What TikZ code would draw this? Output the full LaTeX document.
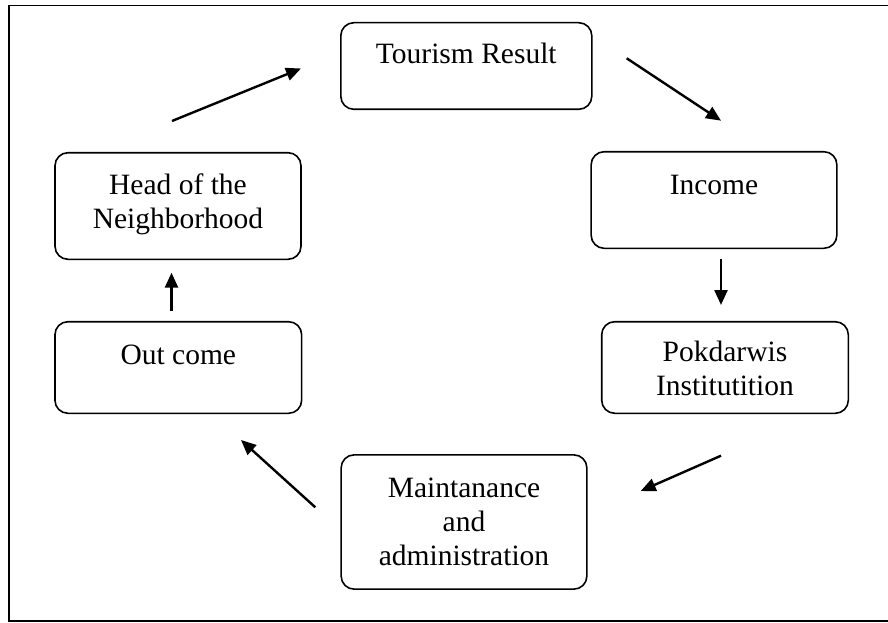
\documentclass[tikz,border=0pt]{standalone}
\usepackage{fontspec}
\setmainfont{Liberation Serif}
\usetikzlibrary{arrows.meta,calc}
\tikzset{
  stagebox/.style={draw, line width=1.6pt, rounded corners=13pt, inner sep=0pt},
  stagetext/.style={anchor=base, align=center, inner sep=0pt, font=\fontsize{29.5}{34}\selectfont},
  flow/.style={line width=2.4pt, -{Triangle[length=15pt,width=13pt]}},
}
\begin{document}
\begin{tikzpicture}[x=1pt,y=-1pt]
\useasboundingbox (0,0) rectangle (888,623);
\clip (0,0) rectangle (888,623);
\draw[line width=1.8pt] (9,5.5) rectangle (900,621);
% boxes
\node[stagebox, minimum width=251pt, minimum height=86.6pt] (tr) at (466.3,66) {};
\node[stagebox, minimum width=245.7pt, minimum height=96.6pt] (inc) at (714,200) {};
\node[stagebox, minimum width=246.6pt, minimum height=91.6pt] (pok) at (725,367.5) {};
\node[stagebox, minimum width=245.7pt, minimum height=134.3pt] (man) at (464,522) {};
\node[stagebox, minimum width=246.7pt, minimum height=91.6pt] (out) at (178.3,367.5) {};
\node[stagebox, minimum width=246pt, minimum height=106.6pt] (head) at (178,206) {};
% texts (base anchor = baseline of the last line)
\node[stagetext] (trt) at ($(tr.north)+(0,41.6)$) {Tourism Result};
\node[stagetext] (inct) at ($(inc.north)+(0,43.3)$) {Income};
\node[stagetext] (pokt) at ($(pok.north)+(0,75)$) {Pokdarwis\\Institutition};
\node[stagetext] (mant) at ($(man.north)+(0,111.7)$) {Maintanance\\and\\administration};
\node[stagetext] (outt) at ($(out.north)+(0,43.3)$) {Out come};
\node[stagetext] (headt) at ($(head.north)+(0,76.3)$) {Head of the\\Neighborhood};
% arrow ends
\coordinate (a1s) at (172,121);   \coordinate (a1e) at (301,68.5);
\coordinate (a2s) at (626.7,58.3); \coordinate (a2e) at (721,120.7);
\coordinate (a3s) at (721,259.3);  \coordinate (a3e) at (721,305);
\coordinate (a4s) at (721,455.7);  \coordinate (a4e) at (640.7,491);
\coordinate (a5s) at (315.3,507.3); \coordinate (a5e) at (241,440);
\coordinate (a6s) at (171.5,311);  \coordinate (a6e) at (171.5,272.7);
\draw[flow] (a1s) -- (a1e);
\draw[flow] (a2s) -- (a2e);
\draw[flow] (a3s) -- (a3e);
\draw[flow] (a4s) -- (a4e);
\draw[flow] (a5s) -- (a5e);
\draw[flow] (a6s) -- (a6e);
\end{tikzpicture}
\end{document}
